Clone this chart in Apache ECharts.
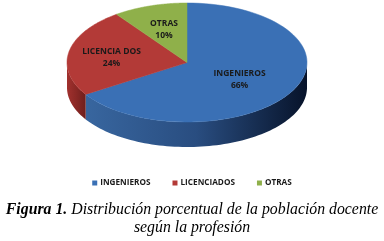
<!DOCTYPE html>
<html><head><meta charset="utf-8">
<script src="https://cdn.jsdelivr.net/npm/echarts@6/dist/echarts.min.js"></script>
<style>html,body{margin:0;padding:0;background:#fff}#c{width:384px;height:241px}</style>
</head><body><div id="c"></div>
<script>
const categories = ['INGENIEROS', 'LICENCIADOS', 'OTRAS'];
const sliceLabels = ['INGENIEROS', 'LICENCIA DOS', 'OTRAS'];
const values = [66, 24, 10];
const captionBold = 'Figura 1.';
const captionLine1 = 'Distribución porcentual de la población docente';
const captionLine2 = 'según la profesión';

const colors = ['#3a70b5', '#b33a37', '#8fb04a'];
const sideColors = [['#38669f', '#294d80', '#07132a'], ['#a1312e', '#8a2825', '#6e1f1d'], ['#7a9a3a', '#6a8a30', '#5a7a28']];
const labelRatio = [0.5, 0.64, 0.62];
const CX = 187, CY = 62.5, RX = 120, RY = 59.5, DEPTH = 25;
const total = values.reduce((a, b) => a + b, 0);
const SANS = '"Open Sans", sans-serif';
const SERIF = '"Liberation Serif", serif';

function pt(phi, dy) { return [CX + RX * Math.sin(phi), CY - RY * Math.cos(phi) + (dy || 0)]; }

function makeRender(i) {
  return function (params, api) {
    const v = api.value(0);
    let before = 0;
    for (let k = 0; k < i; k++) before += values[k];
    const start = before / total * 2 * Math.PI;
    const end = start + v / total * 2 * Math.PI;
    const children = [];
    const N = 80;
    const top = [[CX, CY]];
    for (let k = 0; k <= N; k++) top.push(pt(start + (end - start) * k / N));
    children.push({ type: 'polygon', shape: { points: top }, style: { fill: colors[i], stroke: colors[i], lineWidth: 0.5 }, z2: 10 });
    const s = Math.max(start, Math.PI / 2), e = Math.min(end, 1.5 * Math.PI);
    if (e > s) {
      const side = [];
      for (let k = 0; k <= N; k++) side.push(pt(s + (e - s) * k / N));
      for (let k = N; k >= 0; k--) side.push(pt(s + (e - s) * k / N, DEPTH));
      children.push({ type: 'polygon', shape: { points: side }, style: {
        fill: { type: 'linear', x: 0, y: 0, x2: 1, y2: 0, colorStops: [
          { offset: 0, color: sideColors[i][0] }, { offset: 0.5, color: sideColors[i][1] }, { offset: 1, color: sideColors[i][2] }] },
        stroke: null }, z2: 1 });
    }
    const mid = (start + end) / 2;
    const lp = [CX + RX * labelRatio[i] * Math.sin(mid), CY - RY * labelRatio[i] * Math.cos(mid) + (i === 0 ? 3 : 2)];
    children.push({ type: 'text', z2: 20, style: {
      text: sliceLabels[i] + '\n' + v + '%', x: lp[0], y: lp[1], fill: '#1a1a1a',
      fontFamily: SANS, fontWeight: 'bold', fontSize: 8.5, lineHeight: 12,
      align: 'center', verticalAlign: 'middle' } });
    return { type: 'group', children: children };
  };
}

const chart = echarts.init(document.getElementById('c'), null, { renderer: 'canvas' });
chart.setOption({
  animation: false,
  title: [
    { text: '{b|' + captionBold + '}{i| ' + captionLine1 + '}', left: 'center', top: 202, padding: 0,
      textStyle: { rich: {
        b: { fontFamily: SERIF, fontStyle: 'italic', fontWeight: 'bold', fontSize: 15.8, color: '#000' },
        i: { fontFamily: SERIF, fontStyle: 'italic', fontWeight: 'normal', fontSize: 15.8, color: '#000' } } } },
    { text: captionLine2, left: 'center', top: 220, padding: 0,
      textStyle: { fontFamily: SERIF, fontStyle: 'italic', fontWeight: 'normal', fontSize: 15.8, color: '#000' } }
  ],
  legend: {
    data: categories, top: 174, left: 'center', icon: 'rect', itemWidth: 5, itemHeight: 5, itemGap: 22,
    formatter: '{b|{name}}',
    textStyle: { fontFamily: SANS, fontWeight: 'bold', fontSize: 8.2, color: '#1a1a1a', padding: [0, 0, 0, -2],
      rich: { b: { fontFamily: SANS, fontWeight: 'bold', fontSize: 8.2, color: '#1a1a1a' } } }
  },
  series: categories.map((name, i) => ({
    type: 'custom', name: name, coordinateSystem: 'none',
    itemStyle: { color: colors[i] },
    data: [[values[i]]],
    renderItem: makeRender(i)
  }))
});
</script></body></html>
